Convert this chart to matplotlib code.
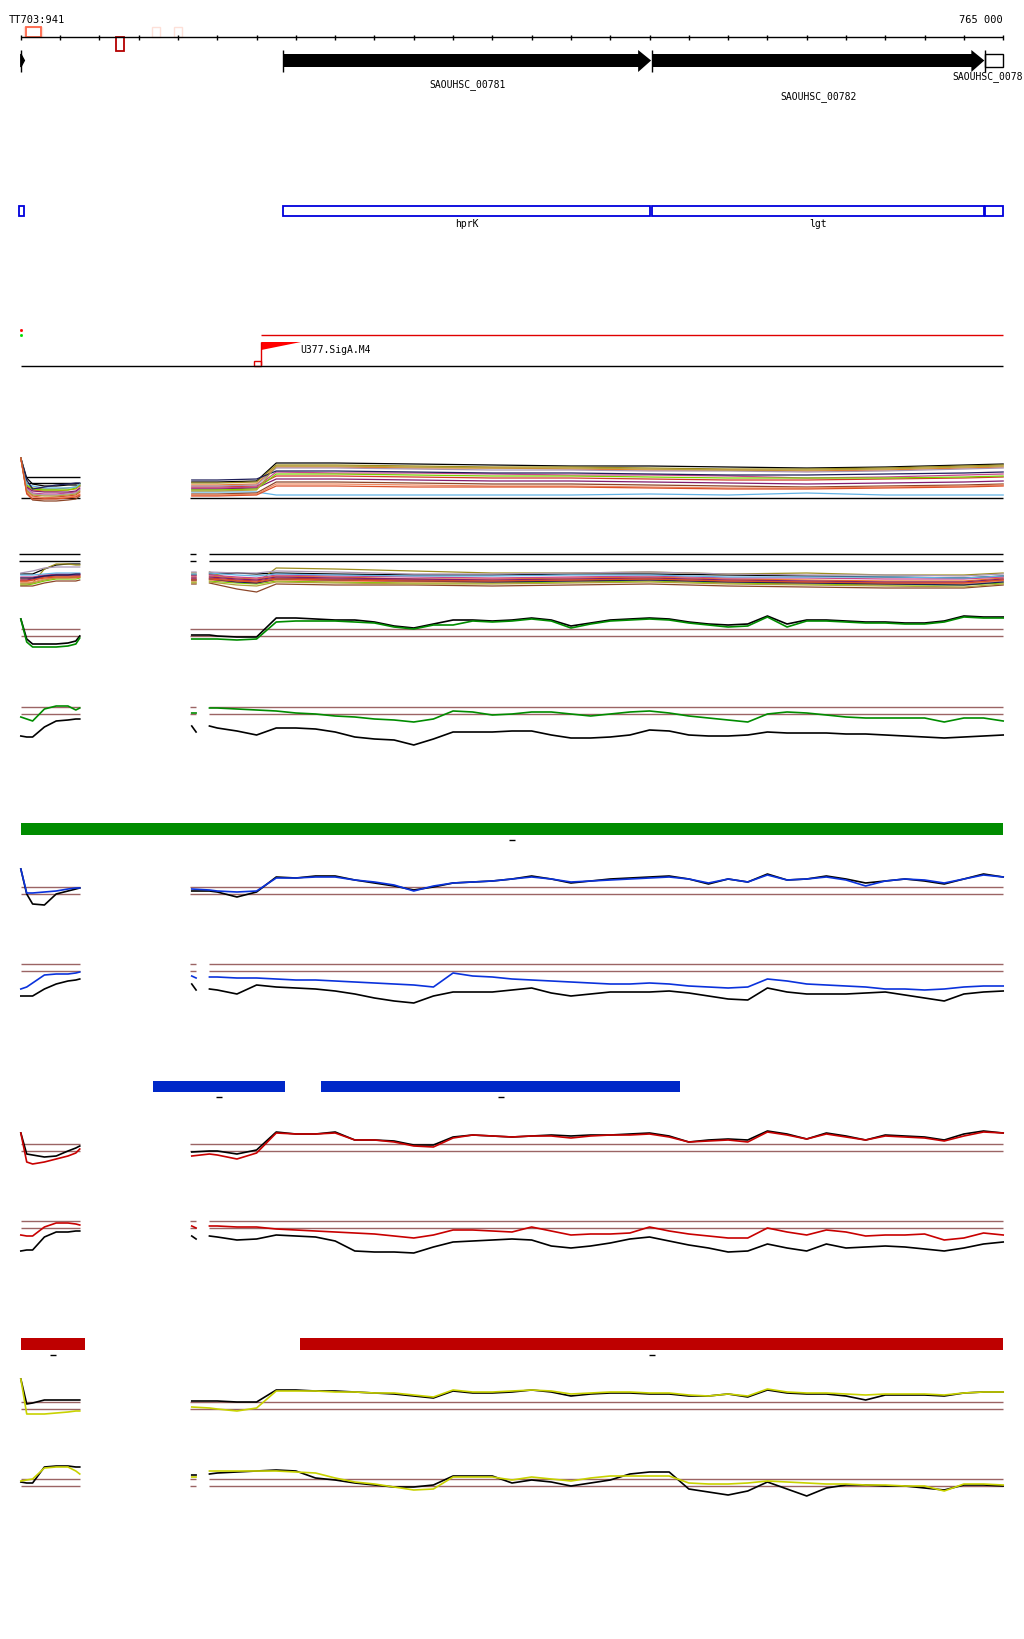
import numpy as np
import matplotlib.pyplot as plt
from matplotlib.patches import Rectangle, Polygon

nan = np.nan
W, H = 1024, 1640
MONO = 'DejaVu Sans Mono'

# window shown (bp) and ruler
view = (762447, 765053)
ruler_ticks = np.arange(762500, 765001, 100)

# probe positions: left block, right block, right block with a hole
x_left = [762500, 762515, 762530, 762560, 762590, 762620, 762640, 762650]
x_right = [762935, 762980] + list(range(763000, 765001, 50))
x_right_gap = [762935, 762946, nan, 762980] + list(range(763000, 765001, 50))
x_odd = x_left + [nan] + x_right
x_even = x_left + [nan] + x_right_gap
x_bundle_a = x_left + [nan] + [762935, 763000, 763100, 763150, 763300, 763500, 763700,
                               763900, 764100, 764300, 764500, 764700, 764900, 765000]
x_bundle_b = x_left + [nan] + [762935, 762946, nan, 762980, 763050, 763100, 763150, 763300,
                               763500, 763700, 763900, 764100, 764300, 764500, 764700,
                               764900, 765000]

# annotation features (bp)
genes = [(763168, 764104, 'SAOUHSC_00781'), (764107, 764952, 'SAOUHSC_00782')]
gene_names = ['hprK', 'lgt']
cds_boxes = [(762495, 762509), (763168, 764102), (764107, 764950), (764954, 765000)]
green_bars = [(762500, 765000)]
blue_bars = [(762837, 763173), (763265, 764178)]
red_bars = [(762500, 762664), (763211, 765000)]
promoter = 763112

# ---- multi-sample bundles -------------------------------------------------
bundle_colors = ['black', '#9c8c1c', '#e8782a', '#d23c2a', '#c8468c', '#821e6e', '#78d200',
                 '#64b4e6', '#8c4628', '#f08c64', '#aa96b4', '#1e1e5a', '#b4a03c', '#dc5028']
bundle_a = [
    [40, 20, 14, 12, 12, 13, 13, 12, nan, 16, 16, 17, 35, 35, 34, 33, 32, 32, 31, 30, 31, 33, 34],
    [40, 15, 10, 9, 9, 10, 11, 14, nan, 15, 15, 16, 33, 33, 32, 31, 31, 30, 29, 29, 30, 32, 33],
    [40, 12, 8, 7, 7, 8, 9, 12, nan, 13, 13, 14, 31, 31, 30, 30, 29, 28, 28, 27, 28, 30, 31],
    [40, 8, 2, 0, 1, 2, 3, 6, nan, 11, 11, 12, 22, 22, 21, 20, 20, 19, 18, 18, 19, 20, 21],
    [40, 10, 5, 4, 4, 5, 6, 9, nan, 10, 10, 11, 26, 25, 25, 24, 23, 23, 22, 20, 21, 23, 24],
    [40, 11, 7, 6, 6, 6, 7, 10, nan, 9, 9, 10, 19, 19, 18, 17, 17, 16, 15, 14, 15, 16, 17],
    [40, 13, 9, 8, 8, 8, 10, 13, nan, 8, 8, 9, 24, 24, 23, 22, 22, 21, 20, 20, 20, 21, 22],
    [40, 14, 12, 10, 10, 10, 11, 14, nan, 6, 6, 6, 3, 3, 3, 3, 3, 4, 3, 5, 3, 3, 3],
    [40, 5, -2, -3, -3, -2, -1, 2, nan, 4, 4, 5, 16, 16, 15, 14, 14, 13, 12, 11, 12, 13, 14],
    [40, 6, 1, 0, 0, 1, 2, 4, nan, 3, 3, 4, 14, 14, 13, 12, 12, 11, 10, 10, 11, 12, 13],
    [40, 9, 4, 3, 3, 4, 5, 8, nan, 12, 12, 13, 30, 30, 29, 28, 28, 27, 27, 26, 27, 29, 30],
    [40, 18, 9, 11, 13, 14, 15, 15, nan, 18, 18, 19, 27, 27, 26, 25, 25, 24, 23, 23, 24, 25, 26],
    [40, 7, 3, 2, 2, 3, 4, 7, nan, 7, 7, 8, 32, 32, 31, 30, 30, 29, 28, 28, 29, 31, 32],
    [40, 4, -1, -1, -1, 0, 1, 3, nan, 2, 2, 3, 12, 12, 11, 11, 11, 10, 9, 9, 10, 11, 12],
]
bundle_b = [
    [-13, -13, -13, -8, -4, -3, -3, -3, nan, -14, -14, nan, -13, -12, -13, -12, -13, -14, -14, -13, -13, -14, -15, -16, -17, -15],
    [-22, -22, -22, -8, -3, -3, -4, -4, nan, -12, -12, nan, -11, -20, -22, -7, -8, -10, -12, -12, -11, -13, -12, -14, -14, -12],
    [-18, -18, -17, -15, -14, -14, -14, -14, nan, -16, -16, nan, -15, -17, -18, -15, -16, -18, -18, -17, -16, -18, -19, -20, -20, -17],
    [-20, -20, -19, -16, -15, -15, -15, -15, nan, -18, -18, nan, -17, -19, -20, -17, -18, -19, -20, -19, -18, -20, -21, -22, -22, -19],
    [-16, -16, -16, -14, -13, -13, -13, -13, nan, -15, -15, nan, -14, -16, -17, -14, -15, -16, -17, -16, -15, -17, -17, -18, -18, -16],
    [-19, -19, -18, -15, -14, -14, -14, -14, nan, -17, -17, nan, -16, -18, -19, -16, -17, -18, -19, -18, -17, -19, -20, -21, -21, -18],
    [-24, -24, -23, -20, -18, -18, -18, -17, nan, -21, -21, nan, -20, -22, -23, -20, -21, -22, -22, -21, -20, -22, -23, -24, -24, -22],
    [-14, -14, -14, -13, -12, -12, -12, -12, nan, -13, -13, nan, -12, -14, -15, -13, -14, -15, -15, -14, -14, -16, -16, -16, -17, -15],
    [-25, -25, -25, -22, -20, -20, -20, -19, nan, -23, -23, nan, -22, -28, -31, -23, -24, -24, -25, -24, -23, -25, -26, -27, -27, -24],
    [-21, -21, -21, -18, -17, -17, -17, -16, nan, -20, -20, nan, -19, -21, -22, -19, -20, -21, -21, -20, -19, -21, -22, -23, -23, -20],
    [-12, -11, -10, -7, -6, -6, -6, -6, nan, -11, -11, nan, -11, -12, -12, -10, -11, -13, -13, -12, -11, -13, -14, -14, -15, -13],
    [-17, -17, -17, -15, -14, -14, -13, -13, nan, -19, -19, nan, -18, -21, -22, -18, -19, -20, -21, -20, -19, -21, -22, -23, -24, -21],
    [-23, -23, -22, -19, -17, -17, -16, -16, nan, -22, -22, nan, -21, -24, -25, -21, -22, -23, -23, -22, -21, -23, -24, -25, -26, -23],
    [-20, -20, -19, -17, -16, -16, -16, -16, nan, -19, -19, nan, -18, -20, -21, -18, -19, -20, -20, -19, -18, -20, -21, -22, -22, -19],
]

# ---- paired profiles (signal relative to the upper reference line) --------
t3_black = [10, -10, -15, -15, -15, -14, -12, -7, nan, -6, -6, -7, -8, -8, 11, 11, 10, 9, 9, 7, 3, 1, 5, 9, 9, 8, 9, 11, 9, 3, 6, 9, 10, 11, 10, 7, 5, 4, 5, 13, 5, 9, 9, 8, 7, 7, 6, 6, 8, 13, 12, 12]
t3_green = [10, -13, -18, -18, -18, -17, -15, -9, nan, -10, -10, -10, -11, -10, 7, 8, 8, 8, 7, 6, 2, 0, 4, 4, 8, 7, 8, 10, 8, 1, 5, 8, 9, 10, 9, 6, 4, 2, 3, 12, 2, 8, 8, 7, 6, 6, 5, 5, 7, 12, 11, 11]
t4_black = [-29, -30, -30, -20, -14, -13, -12, -12, nan, -19, -25, nan, -19, -21, -24, -28, -21, -21, -22, -25, -30, -32, -33, -38, -32, -25, -25, -25, -24, -24, -28, -31, -31, -30, -28, -23, -24, -28, -29, -29, -28, -25, -26, -26, -26, -27, -27, -28, -29, -30, -31, -30, -29, -28]
t4_green = [-10, -12, -14, -2, 1, 1, -3, -1, nan, -6, -6, nan, -1, -1, -2, -3, -4, -6, -7, -9, -10, -12, -13, -15, -12, -4, -5, -8, -7, -5, -5, -7, -9, -7, -5, -4, -6, -9, -11, -13, -15, -7, -5, -6, -8, -10, -11, -11, -11, -11, -15, -11, -11, -14]
t5_black = [18, -7, -17, -18, -7, -4, -2, -1, nan, -4, -4, -5, -10, -5, 10, 9, 11, 11, 7, 4, 1, -3, 0, 4, 5, 6, 8, 11, 8, 4, 6, 8, 9, 10, 11, 8, 3, 8, 5, 13, 7, 8, 11, 8, 4, 6, 8, 6, 3, 8, 13, 10]
t5_blue = [18, -6, -6, -5, -4, -2, -1, -1, nan, -2, -3, -4, -5, -4, 9, 9, 10, 10, 7, 5, 2, -4, 1, 4, 5, 6, 8, 10, 8, 5, 6, 7, 8, 9, 10, 8, 4, 8, 5, 12, 7, 8, 10, 7, 1, 6, 8, 7, 4, 8, 12, 10]
t6_black = [-32, -32, -32, -25, -20, -17, -16, -15, nan, -20, -26, nan, -25, -26, -30, -21, -23, -24, -25, -27, -30, -34, -37, -39, -32, -28, -28, -28, -26, -24, -29, -32, -30, -28, -28, -28, -27, -29, -32, -35, -36, -24, -28, -30, -30, -30, -29, -28, -31, -34, -37, -30, -28, -27]
t6_blue = [-25, -23, -19, -11, -10, -10, -9, -8, nan, -12, -14, nan, -13, -13, -14, -14, -15, -16, -16, -17, -18, -19, -20, -21, -23, -9, -12, -13, -15, -16, -17, -18, -19, -20, -20, -19, -20, -22, -23, -24, -23, -15, -17, -20, -21, -22, -23, -25, -25, -26, -25, -23, -22, -22]
t7_black = [11, -10, -11, -13, -12, -7, -4, -2, nan, -8, -7, -7, -10, -6, 12, 10, 10, 12, 4, 4, 3, -1, -1, 7, 9, 8, 7, 8, 9, 8, 9, 9, 10, 11, 8, 2, 4, 5, 4, 13, 10, 5, 11, 8, 4, 9, 8, 7, 4, 10, 13, 11]
t7_red = [11, -18, -20, -18, -15, -12, -9, -5, nan, -12, -10, -11, -15, -9, 11, 10, 10, 11, 4, 4, 2, -2, -3, 6, 9, 8, 7, 8, 8, 6, 8, 9, 9, 10, 7, 2, 3, 4, 2, 12, 9, 5, 10, 7, 4, 8, 7, 6, 3, 8, 12, 11]
t8_black = [-30, -29, -29, -16, -11, -11, -10, -10, nan, -15, -18, nan, -15, -16, -19, -18, -14, -15, -16, -20, -30, -31, -31, -32, -26, -21, -20, -19, -18, -19, -25, -27, -25, -22, -18, -16, -20, -24, -27, -31, -30, -23, -27, -30, -23, -27, -26, -25, -26, -28, -30, -27, -23, -21]
t8_red = [-14, -15, -15, -6, -2, -2, -3, -4, nan, -5, -7, nan, -5, -5, -6, -6, -8, -9, -10, -11, -12, -13, -15, -17, -14, -9, -9, -10, -11, -6, -10, -14, -13, -13, -12, -6, -10, -13, -15, -17, -17, -7, -11, -14, -9, -11, -15, -14, -14, -13, -19, -17, -12, -14]
t9_black = [23, -2, -1, 2, 2, 2, 2, 2, nan, 1, 1, 1, 0, 0, 12, 12, 11, 11, 10, 9, 8, 6, 4, 11, 9, 9, 10, 12, 10, 6, 8, 9, 9, 8, 8, 6, 6, 8, 5, 12, 9, 8, 8, 6, 2, 7, 7, 7, 6, 9, 10, 10]
t9_yellow = [23, -12, -12, -12, -11, -10, -9, -9, nan, -5, -6, -7, -9, -6, 11, 11, 11, 10, 10, 9, 9, 7, 5, 12, 10, 10, 11, 12, 11, 8, 9, 10, 10, 9, 9, 7, 6, 8, 6, 13, 10, 9, 9, 8, 7, 8, 8, 8, 7, 9, 10, 10]
t10_black = [-3, -4, -4, 12, 13, 13, 12, 12, nan, 4, 4, nan, 5, 6, 7, 8, 9, 8, 1, -1, -4, -6, -8, -8, -6, 3, 3, 3, -4, -1, -3, -7, -4, -1, 5, 7, 7, -10, -13, -16, -12, -3, -10, -17, -9, -6, -6, -7, -7, -9, -11, -6, -6, -7]
t10_yellow = [-2, -1, 0, 11, 12, 12, 8, 5, nan, 2, 2, nan, 8, 8, 8, 8, 8, 7, 6, 1, -3, -5, -8, -11, -10, 2, 2, 2, -1, 2, 0, -2, 1, 3, 3, 3, 3, -4, -5, -5, -4, -2, -3, -4, -5, -5, -6, -6, -7, -7, -12, -5, -5, -6]

BROWN = '#9b6464'
GREEN, BLUE, RED, YELLOW = '#008c00', '#0a32dc', '#c80000', '#c8d200'

fig = plt.figure(figsize=(W / 100, H / 100), dpi=100)

# annotation layer: x in bp, y in picture rows
ax = fig.add_axes([0, 0, 1, 1])
ax.set_xlim(*view)
ax.set_ylim(H, 0)
ax.axis('off')

ax.text(762468, 20, 'TT703:941', family=MONO, fontsize=7.5, va='center')
ax.text(765000, 20, '765 000', family=MONO, fontsize=7.5, va='center', ha='right')
ax.hlines(38, 762500, 765000, color='black', lw=1)
ax.vlines(ruler_ticks, 36, 41, color='black', lw=1)
for s, e, c in [(762508, 762554, '#fde0d8'), (762834, 762855, '#fde0d8'), (762890, 762910, '#fde0d8')]:
    ax.add_patch(Rectangle((s, 28), e - s, 10, fill=False, ec=c, lw=1))
ax.add_patch(Rectangle((762513, 28), 39, 10, fill=False, ec='#ff6648', lw=1.3))
ax.add_patch(Rectangle((762743, 38), 20, 14, fill=False, ec='#b40000', lw=1.3))

# gene arrows
ax.add_patch(Polygon([(762500, 55), (762509, 61.5), (762500, 68)], color='black'))
ax.vlines(762500, 51, 73, color='black', lw=1)
for (s, e, name), y in zip(genes, [85, 97]):
    head = e - 33
    ax.add_patch(Polygon([(s, 55), (head, 55), (head, 51), (e, 61.5), (head, 73),
                          (head, 68), (s, 68)], color='black', lw=0))
    ax.vlines(s, 51, 73, color='black', lw=1)
    ax.text((s + e) / 2, y, name, family=MONO, fontsize=7, ha='center', va='center')
ax.add_patch(Rectangle((764954, 55), 46, 13, fill=False, ec='black', lw=1))
ax.vlines(764954, 51, 73, color='black', lw=1)
ax.text(765050, 77, 'SAOUHSC_0078', family=MONO, fontsize=7, va='center', ha='right')

# CDS boxes
for s, e in cds_boxes:
    ax.add_patch(Rectangle((s, 207), e - s, 10, fill=False, ec='#0000dc', lw=1.3))
for (s, e, _), name in zip(genes, gene_names):
    ax.text((s + e) / 2, 224, name, family=MONO, fontsize=7, ha='center', va='center')

# promoter
ax.plot([762500], [331], 's', color='red', ms=1)
ax.plot([762500], [336], 's', color='#00dd00', ms=1)
ax.hlines(336, promoter, 765000, color='#e00000', lw=1)
ax.vlines(promoter, 343, 366, color='#e00000', lw=1)
ax.add_patch(Polygon([(promoter, 343), (763213, 343), (promoter, 351)], color='#ff0000', lw=0))
ax.add_patch(Rectangle((763094, 362), 18, 4.5, fill=False, ec='#e00000', lw=1))
ax.text(763211, 350, 'U377.SigA.M4', family=MONO, fontsize=7, va='center')
ax.hlines(366.5, 762500, 765000, color='black', lw=1)

# region bars
for bars, (top, bot), col in [(green_bars, (824, 836), '#008c00'),
                              (blue_bars, (1082, 1093), '#0028c8'),
                              (red_bars, (1339, 1351), '#be0000')]:
    for s, e in bars:
        ax.add_patch(Rectangle((s, top), e - s, bot - top, color=col, lw=0))
        mid = (s + e) / 2
        ax.hlines(bot + 5, mid - 8, mid + 8, color='black', lw=1)


def track(row):
    a = fig.add_axes([0, 1 - (row + 45) / H, 1, 90 / H])
    a.set_xlim(*view)
    a.set_ylim(-45, 45)
    a.axis('off')
    a.patch.set_alpha(0)
    return a


left_span = [(762500, 762651)]
odd_span = [(762931, 765000)]
even_span = [(762931, 762946), (762980, 765000)]


def ref_lines(a, levels, spans, color):
    for lv in levels:
        for s, e in spans:
            a.hlines(lv, s, e, color=color, lw=1)


# bundle tracks
a1 = track(499)
ref_lines(a1, [0], left_span + odd_span, 'black')
ref_lines(a1, [21, 15], [(762510, 762651)], 'black')
for vals, col in zip(bundle_a, bundle_colors):
    a1.plot(x_bundle_a, vals, color=col, lw=0.9)

a2 = track(562)
ref_lines(a2, [0, 7], [(762495, 762651)] + even_span, 'black')
for vals, col in zip(bundle_b, bundle_colors):
    a2.plot(x_bundle_b, vals, color=col, lw=0.9)

# paired tracks
paired = [
    (630, x_odd, t3_black, t3_green, GREEN, odd_span),
    (708, x_even, t4_black, t4_green, GREEN, even_span),
    (888, x_odd, t5_black, t5_blue, BLUE, odd_span),
    (965, x_even, t6_black, t6_blue, BLUE, even_span),
    (1145, x_odd, t7_black, t7_red, RED, odd_span),
    (1222, x_even, t8_black, t8_red, RED, even_span),
    (1403, x_odd, t9_black, t9_yellow, YELLOW, odd_span),
    (1480, x_even, t10_black, t10_yellow, YELLOW, even_span),
]
for row, xs, black, colored, col, spans in paired:
    a = track(row)
    ref_lines(a, [0, -7], left_span + spans, BROWN)
    a.plot(xs, black, color='black', lw=1.2)
    a.plot(xs, colored, color=col, lw=1.2)

fig.savefig('out.png', dpi=100)
